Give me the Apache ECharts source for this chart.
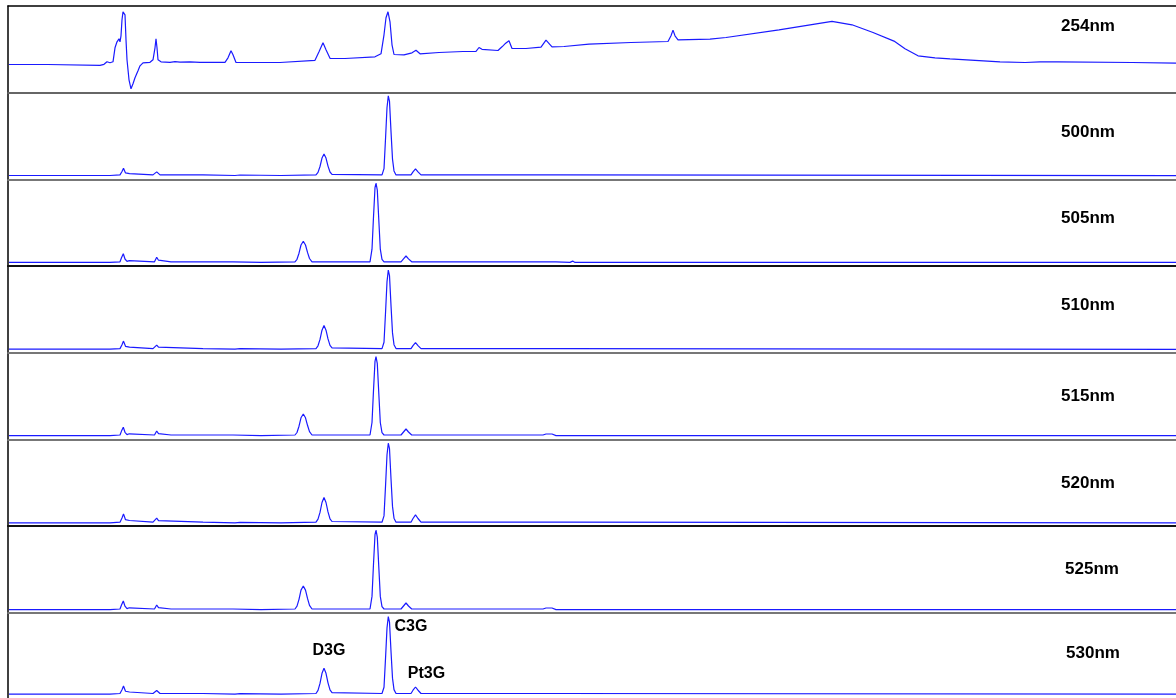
<!DOCTYPE html>
<html>
<head>
<meta charset="utf-8">
<title>Chromatograms</title>
<script src="https://cdn.jsdelivr.net/npm/echarts@6/dist/echarts.min.js"></script>
<style>
  html, body { margin: 0; padding: 0; background: #fff; }
  #chart { width: 1176px; height: 698px; }
</style>
</head>
<body>
<div id="chart"></div>
<script>
// detector channels, top to bottom
const wavelengths = ["254nm", "500nm", "505nm", "510nm", "515nm", "520nm", "525nm", "530nm"];

// traces: [retention index, signal above panel floor]
const trace254 = [[9,28.3],[48,28.3],[49,27.5],[100,27.5],[104,28.5],[107,31],[110,30],[113,31],[115,45],[117,51],[118,53],[119,54],[120,51],[121,57],[122,73],[123,81],[124,83],[125,78],[126,53],[127,33],[129,13],[131,4],[133,9],[135,15],[138,22],[140,27],[143,30],[150,30.5],[153,33],[155,45],[156,54],[157,45],[158,33],[161,31],[170,30.5],[175,31.2],[180,30.7],[190,31],[200,30.4],[225,30.4],[228,35],[231,42],[233,38],[236,30.3],[280,30.3],[282,31.5],[315,32.5],[319,41],[323,50],[326,43],[330,34.5],[345,34.3],[375,36],[381,39],[384,58],[386,75],[388,81],[390,71],[392,48],[394,38.3],[404,38],[412,40],[416,42.5],[420,39],[439,40.3],[463,41.3],[476,41.5],[479,45.3],[482,43.5],[498,42.3],[502,46],[505,49],[509,52],[512,44.3],[526,44.3],[541,45.7],[546,52.7],[552,46],[564,46.3],[589,48.7],[631,50.3],[668,51.3],[671,57],[673,62.7],[675,57],[678,53],[710,53.7],[726,55.3],[779,63],[821,69.7],[832,71.5],[852,68],[873,60.3],[894,51.7],[905,44],[918,37],[935,35],[950,34],[1000,31],[1025,30.3],[1040,31],[1058,31],[1060,30.3],[1132,30.3],[1134,29.7],[1176,29.7]];

const trace500 = [[9,4.0],[110,4.0],[111,4.6],[120,4.6],[122,8.0],[123.5,11.3],[125.5,6.6],[127.5,5.3],[129.5,5.9],[131,4.6],[153,4.6],[155,6.1],[156.7,7.6],[158.5,5.8],[160,4.6],[203,4.6],[204,4.0],[235,4.0],[237,4.5],[240,4.5],[242,4.0],[281,4.0],[282,4.6],[316,4.6],[318,7.1],[320,13.0],[322,21.4],[324,25.6],[326,21.4],[328,13.4],[330,7.5],[332,5.2],[334,4.6],[382,4.6],[384,10.9],[385.5,40.2],[387,71.8],[388.3,83.6],[389.5,78.1],[391,48.1],[392.5,20.4],[394,8.6],[396,4.6],[411,4.6],[413,7.6],[415.5,10.6],[418,7.6],[421,4.6],[560,4.6],[561,3.8],[1176,3.8]];

const trace505 = [[9,3.8],[110,3.8],[111,4.4],[120,4.4],[121.5,8.5],[123.3,12.5],[125,7.2],[127,4.8],[129.3,5.6],[131,4.4],[154.5,4.4],[155.5,6.2],[156.7,8.9],[158.5,6.0],[160,4.4],[171,4.4],[173,5.8],[175,4.4],[233,4.4],[234,3.8],[261,3.8],[262,4.4],[295,4.4],[297,6.9],[299,13.0],[301,21.2],[303.3,24.9],[305.5,21.2],[307.5,13.8],[309.5,7.7],[312,4.4],[370,4.4],[372,17.0],[373.5,49.3],[375,78.5],[376,83.2],[377.3,76.1],[378.8,46.2],[380.3,17.0],[382,6.8],[384,4.4],[401,4.4],[403.5,7.3],[406,10.2],[408.5,7.3],[411.7,4.4],[556,4.4],[557,3.8],[570,3.8],[572.7,5.1],[575,3.8],[1176,3.8]];

const trace510 = [[9,3.6],[110,3.6],[111,4.2],[120,4.2],[122,8.0],[123.5,11.7],[125.5,6.5],[127.5,5.0],[129.5,5.7],[131,4.2],[153,4.2],[155,6.0],[156.7,7.7],[158.5,5.6],[160,4.2],[203,4.2],[204,3.6],[235,3.6],[237,4.1],[240,4.1],[242,3.6],[281,3.6],[282,4.2],[316,4.2],[318,7.0],[320,13.4],[322,22.6],[324,27.2],[326,22.6],[328,13.9],[330,7.4],[332,4.9],[334,4.2],[382,4.2],[384,10.5],[385.5,39.5],[387,70.9],[388.3,82.7],[389.5,77.2],[391,47.4],[392.5,19.9],[394,8.1],[396,4.2],[411,4.2],[413,7.2],[415.5,10.2],[418,7.2],[421,4.2],[560,4.2],[561,3.5],[1176,3.5]];

const trace515 = [[9,3.8],[110,3.8],[111,4.4],[120,4.4],[121.5,8.3],[123.3,12.1],[125,7.1],[127,4.8],[129.3,5.6],[131,4.4],[154.5,4.4],[155.5,6.0],[156.7,8.4],[158.5,5.8],[160,4.4],[171,4.4],[173,5.6],[175,4.4],[233,4.4],[234,3.8],[261,3.8],[262,4.4],[295,4.4],[297,6.9],[299,13.2],[301,21.6],[303.3,25.4],[305.5,21.6],[307.5,14.1],[309.5,7.8],[312,4.4],[370,4.4],[372,16.9],[373.5,49.0],[375,78.0],[376,82.7],[377.3,75.7],[378.8,45.9],[380.3,16.9],[382,6.7],[384,4.4],[401,4.4],[403.5,7.4],[406,10.4],[408.5,7.4],[411.7,4.4],[543,4.4],[546,5.4],[552,5.4],[556,3.8],[1176,3.8]];

const trace520 = [[9,3.3],[110,3.3],[111,3.9],[120,3.9],[122,8.1],[123.5,12.2],[125.5,6.4],[127.5,4.7],[129.5,5.6],[131,3.9],[153,3.9],[155,5.9],[156.7,7.9],[158.5,5.5],[160,3.9],[203,3.9],[204,3.3],[235,3.3],[237,3.8],[240,3.8],[242,3.3],[281,3.3],[282,3.9],[316,3.9],[318,6.9],[320,13.7],[322,23.6],[324,28.5],[326,23.6],[328,14.2],[330,7.3],[332,4.6],[334,3.9],[382,3.9],[384,10.2],[385.5,39.5],[387,71.1],[388.3,82.9],[389.5,77.4],[391,47.4],[392.5,19.7],[394,7.9],[396,3.9],[411,3.9],[413,7.6],[415.5,11.2],[418,7.6],[421,3.9],[560,3.9],[561,3.2],[1176,3.2]];

const trace525 = [[9,3.2],[110,3.2],[111,3.8],[120,3.8],[121.5,7.8],[123.3,11.8],[125,6.6],[127,4.2],[129.3,5.0],[131,3.8],[154.5,3.8],[155.5,5.4],[156.7,7.8],[158.5,5.2],[160,3.8],[171,3.8],[173,5.0],[175,3.8],[233,3.8],[234,3.2],[261,3.2],[262,3.8],[295,3.8],[297,6.6],[299,13.5],[301,22.7],[303.3,26.8],[305.5,22.7],[307.5,14.4],[309.5,7.5],[312,3.8],[370,3.8],[372,16.4],[373.5,48.8],[375,78.1],[376,82.8],[377.3,75.7],[378.8,45.7],[380.3,16.4],[382,6.2],[384,3.8],[401,3.8],[403.5,6.8],[406,9.8],[408.5,6.8],[411.7,3.8],[543,3.8],[546,4.8],[552,4.8],[556,3.2],[1176,3.2]];

const trace530 = [[9,4.0],[110,4.0],[111,4.6],[120,4.6],[122,8.4],[123.5,12.2],[125.5,6.9],[127.5,5.4],[129.5,6.1],[131,4.6],[153,4.6],[155,6.1],[156.7,7.6],[158.5,5.8],[160,4.6],[203,4.6],[204,4.0],[235,4.0],[237,4.5],[240,4.5],[242,4.0],[281,4.0],[282,4.6],[316,4.6],[318,7.7],[320,14.8],[322,25.1],[324,30.2],[326,25.1],[328,15.4],[330,8.2],[332,5.4],[334,4.6],[382,4.6],[384,10.9],[385.5,39.8],[387,71.1],[388.3,82.8],[389.5,77.3],[391,47.6],[392.5,20.2],[394,8.5],[396,4.6],[411,4.6],[413,7.9],[415.5,11.2],[418,7.9],[421,4.6],[560,4.6],[561,3.9],[1176,3.9]];

const traces = [trace254, trace500, trace505, trace510, trace515, trace520, trace525, trace530];

// peak annotations on the last channel: [name, retention index, signal]
const peakNames = ["D3G", "C3G", "Pt3G"];
const peakLabelX = [329, 411, 426.5];
const peakLabelY = [48.5, 72.8, 24.5];

// ── Layout ────────────────────────────────────────────────────────────────
const panelTops = [6, 92.8, 179.5, 266.2, 352.8, 439.4, 526.1, 612.8];
const panelHeight = (i) => (i < panelTops.length - 1 ? panelTops[i + 1] - panelTops[i] : 86.7);
const sepColors = ["#000", "#666", "#777", "#111", "#777", "#777", "#111", "#777"];
const labelPos = [[1088, 26.5], [1088, 132], [1088, 218], [1088, 305], [1088, 396], [1088, 483], [1092, 569], [1093, 653]];
const FONT = "'Liberation Sans', Arial, sans-serif";

const chart = echarts.init(document.getElementById("chart"));

const grid = [], xAxis = [], yAxis = [], series = [];

traces.forEach((data, i) => {
  grid.push({ left: 8, right: 0, top: panelTops[i], height: panelHeight(i), show: false });
  xAxis.push({
    gridIndex: i, type: "value", min: 8, max: 1176, position: "top",
    axisLine: { show: true, onZero: false, lineStyle: { color: sepColors[i], width: i === 0 ? 1.5 : 2 } },
    axisTick: { show: false }, axisLabel: { show: false }, splitLine: { show: false },
  });
  yAxis.push({
    gridIndex: i, type: "value", min: 0, max: panelHeight(i),
    axisLine: { show: true, lineStyle: { color: "#000", width: 1.5 } },
    axisTick: { show: false }, axisLabel: { show: false }, splitLine: { show: false },
  });
  const s = {
    type: "line", xAxisIndex: i, yAxisIndex: i, data: data,
    showSymbol: false, symbol: "none", smooth: false,
    lineStyle: { color: "#1a1aff", width: 1.2 },
  };
  if (i === traces.length - 1) {
    s.markPoint = {
      symbol: "circle", symbolSize: 0, animation: false,
      label: { show: true, position: "inside", color: "#000", fontFamily: FONT, fontWeight: "bold", fontSize: 16, formatter: (p) => p.name },
      data: peakNames.map((n, k) => ({ name: n, coord: [peakLabelX[k], peakLabelY[k]] })),
    };
  }
  series.push(s);
});

const graphic = wavelengths.map((w, i) => ({
  type: "text", x: labelPos[i][0], y: labelPos[i][1], silent: true,
  style: {
    text: w, fill: "#000", font: "bold 17px " + FONT,
    align: "center", verticalAlign: "middle",
    textAlign: "center", textVerticalAlign: "middle",
  },
}));

chart.setOption({ animation: false, grid, xAxis, yAxis, series, graphic });

window.addEventListener("resize", () => chart.resize());
</script>
</body>
</html>
